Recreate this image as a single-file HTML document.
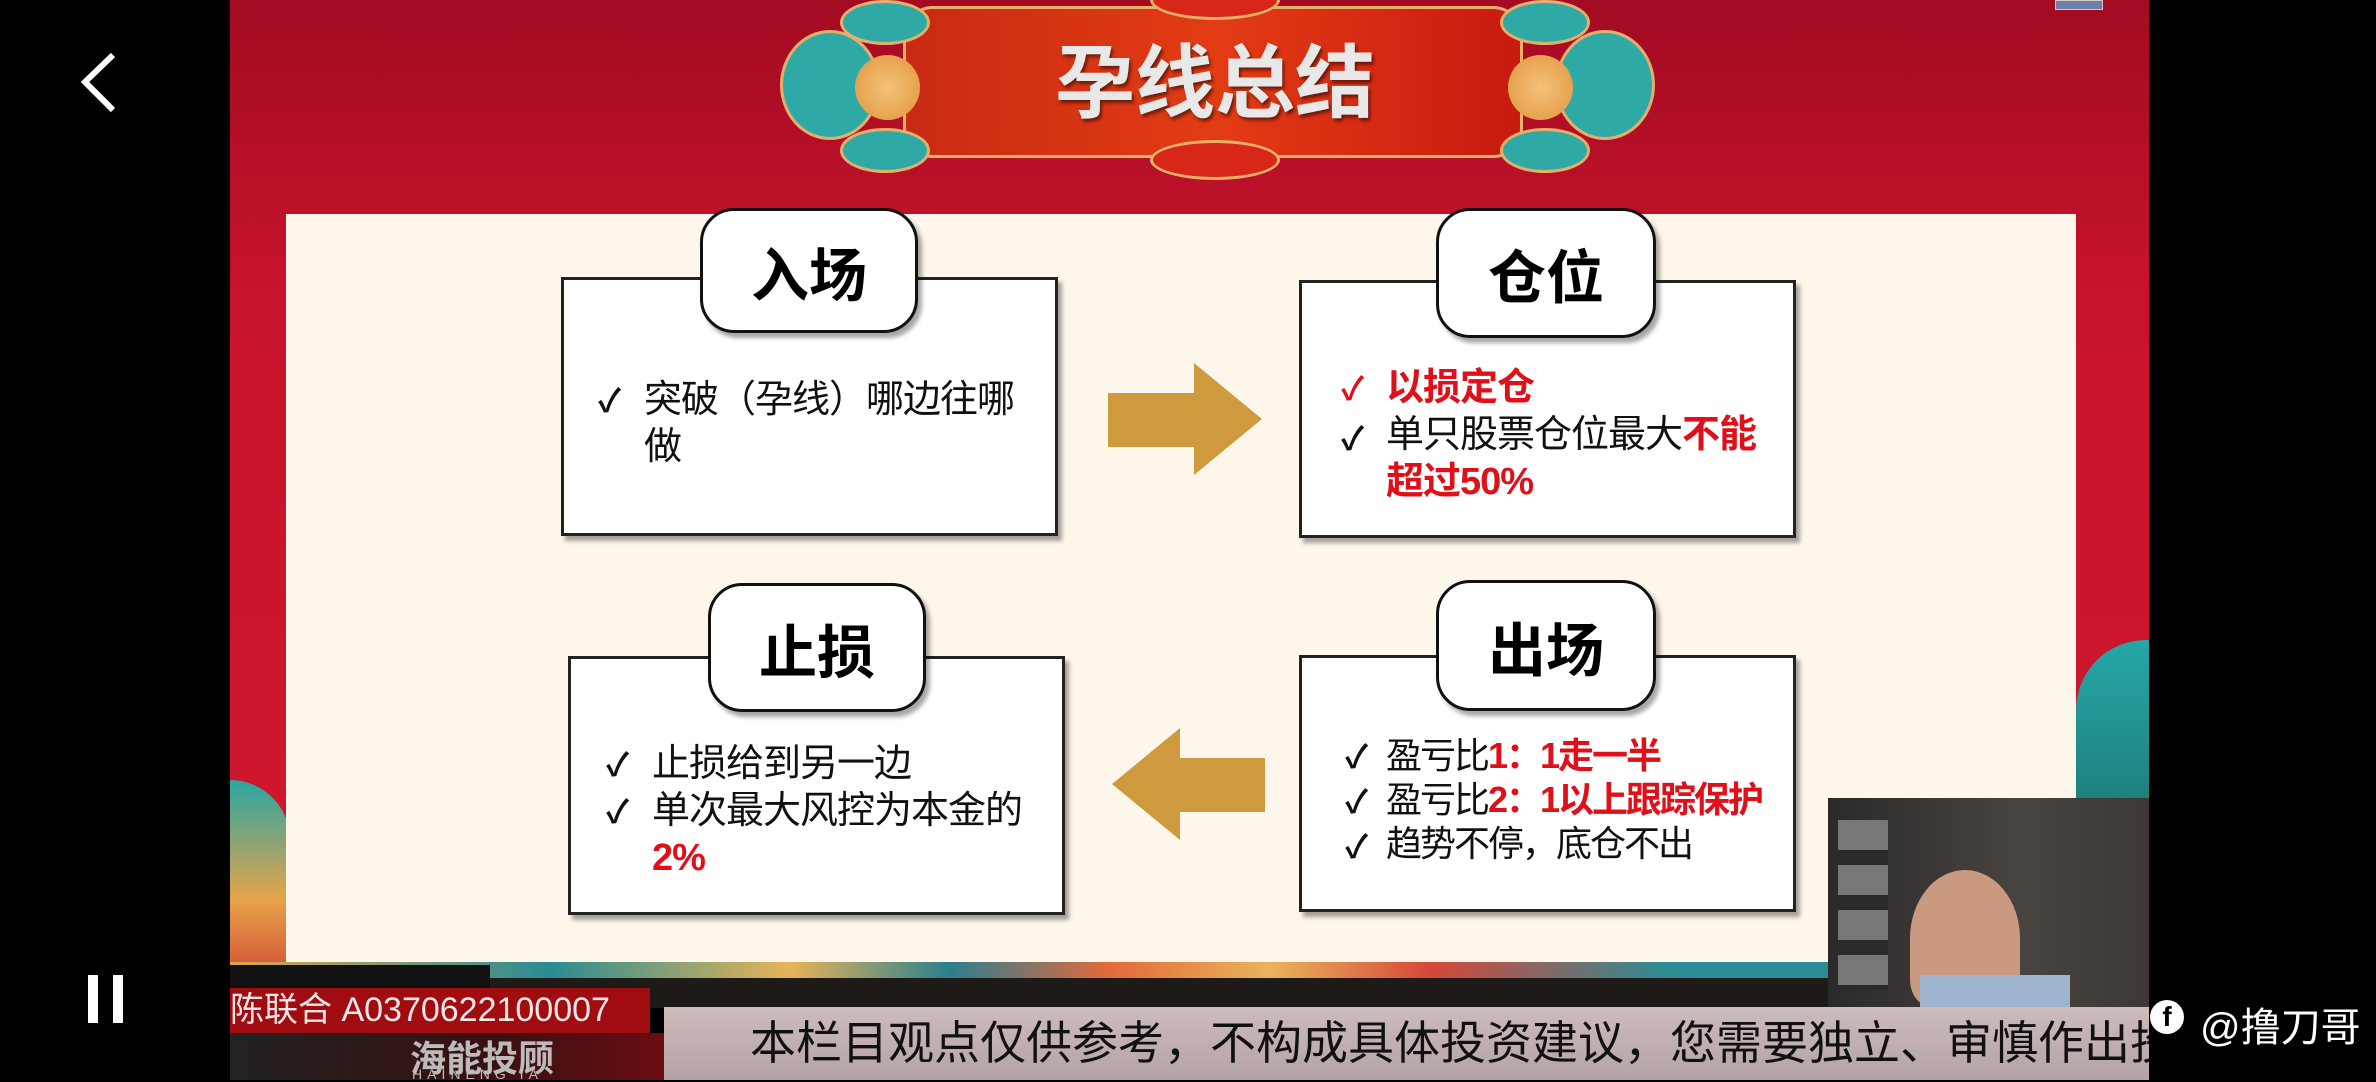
<!DOCTYPE html>
<html><head><meta charset="utf-8"><style>
*{margin:0;padding:0;box-sizing:border-box}
body{width:2376px;height:1080px;background:#000;position:relative;overflow:hidden;font-family:"Liberation Sans","Noto Sans CJK SC",sans-serif}
.abs{position:absolute}
.slide{left:230px;top:0;width:1919px;height:985px;background:linear-gradient(180deg,#a30b22 0%,#c8132c 30%,#d0182e 100%)}
.panel{left:286px;top:214px;width:1790px;height:750px;background:#fdf6ea}
.box{background:#fff;border:3px solid #222;box-shadow:4px 5px 4px rgba(0,0,0,.35)}
.tab{background:#fff;border:3px solid #111;border-radius:34px;box-shadow:4px 5px 4px rgba(0,0,0,.35);font-weight:bold;font-size:58px;color:#000;display:flex;align-items:center;justify-content:center}
.t{font-size:38px;color:#111;line-height:47px;white-space:nowrap}
.r{color:#e0101a;font-weight:bold}
.ck{font-size:32px;color:#111;font-weight:bold}
</style></head><body>
<div class="abs slide"></div>
<div class="abs" style="left:230px;top:780px;width:60px;height:200px;background:linear-gradient(180deg,#2aa6a3,#e6a34a 60%,#d14b34);border-radius:0 60px 0 0"></div>
<div class="abs" style="left:2076px;top:640px;width:73px;height:340px;background:linear-gradient(180deg,#25a7a8,#1e7e7a 50%,#e29644);border-radius:70px 0 0 0"></div>
<div class="abs" style="left:903px;top:6px;width:620px;height:152px;background:linear-gradient(90deg,#c82a12,#e33c14 50%,#c81a10);border:3px solid #e9b06a;border-radius:30px"></div>
<div class="abs" style="left:1150px;top:-20px;width:130px;height:40px;border-radius:50%;background:#d62718;border:3px solid #e9b06a"></div>
<div class="abs" style="left:1150px;top:140px;width:130px;height:40px;border-radius:50%;background:#d62718;border:3px solid #e9b06a"></div>
<div class="abs" style="left:780px;top:30px;width:100px;height:110px;border-radius:50%;background:#2fa9a6;border:3px solid #e3b06c"></div>
<div class="abs" style="left:855px;top:55px;width:65px;height:65px;border-radius:50%;background:radial-gradient(#f4c27a,#e0953c)"></div>
<div class="abs" style="left:840px;top:0px;width:90px;height:45px;border-radius:50%;background:#2fa9a6;border:3px solid #e3b06c"></div>
<div class="abs" style="left:840px;top:128px;width:90px;height:45px;border-radius:50%;background:#2fa9a6;border:3px solid #e3b06c"></div>
<div class="abs" style="left:1555px;top:30px;width:100px;height:110px;border-radius:50%;background:#2fa9a6;border:3px solid #e3b06c"></div>
<div class="abs" style="left:1508px;top:55px;width:65px;height:65px;border-radius:50%;background:radial-gradient(#f4c27a,#e0953c)"></div>
<div class="abs" style="left:1500px;top:0px;width:90px;height:45px;border-radius:50%;background:#2fa9a6;border:3px solid #e3b06c"></div>
<div class="abs" style="left:1500px;top:128px;width:90px;height:45px;border-radius:50%;background:#2fa9a6;border:3px solid #e3b06c"></div>
<div class="abs" style="left:1040px;top:36px;width:350px;text-align:center;font-size:80px;font-weight:bold;color:#e8e8e8;text-shadow:2px 3px 3px rgba(0,0,0,.5);line-height:95px">孕线总结</div>
<div class="abs" style="left:2055px;top:0;width:48px;height:10px;background:#6b7fa8;border:1px solid #ccc"></div>

<div class="abs panel"></div>
<div class="abs box" style="left:561px;top:277px;width:497px;height:259px"></div>
<div class="abs box" style="left:1299px;top:280px;width:497px;height:258px"></div>
<div class="abs box" style="left:568px;top:656px;width:497px;height:259px"></div>
<div class="abs box" style="left:1299px;top:655px;width:497px;height:257px"></div>
<div class="abs tab" style="left:700px;top:208px;width:218px;height:125px">入场</div>
<div class="abs tab" style="left:1436px;top:208px;width:220px;height:130px">仓位</div>
<div class="abs tab" style="left:708px;top:583px;width:218px;height:129px">止损</div>
<div class="abs tab" style="left:1436px;top:580px;width:220px;height:131px">出场</div>
<svg class="abs" style="left:1100px;top:355px" width="175" height="130"><polygon points="8,38 94,38 94,8 162,64 94,120 94,92 8,92" fill="#cf9a3e"/></svg>
<svg class="abs" style="left:1100px;top:720px" width="175" height="130"><polygon points="165,38 80,38 80,8 12,64 80,120 80,92 165,92" fill="#cf9a3e"/></svg>
<div class="abs t" style="left:598px;top:377px"><span class="ck">✓</span></div>
<div class="abs t" style="left:644px;top:377px;letter-spacing:-1px">突破（孕线）哪边往哪<br>做</div>
<div class="abs t" style="left:1341px;top:365px;color:#e0101a"><span class="ck" style="color:#e0101a">✓</span></div>
<div class="abs t" style="left:1341px;top:415px"><span class="ck">✓</span></div>
<div class="abs t" style="left:1386px;top:365px;letter-spacing:-1px"><span class="r">以损定仓</span><br>单只股票仓位最大<span class="r">不能</span><br><span class="r">超过50%</span></div>
<div class="abs t" style="left:606px;top:741px"><span class="ck">✓</span></div>
<div class="abs t" style="left:606px;top:788px"><span class="ck">✓</span></div>
<div class="abs t" style="left:652px;top:741px;letter-spacing:-1px">止损给到另一边<br>单次最大风控为本金的<br><span class="r">2%</span></div>
<div class="abs t" style="left:1345px;top:734px;line-height:44px"><span class="ck">✓</span><br><span class="ck">✓</span><br><span class="ck">✓</span></div>
<div class="abs t" style="left:1386px;top:734px;line-height:44px;font-size:36px;letter-spacing:-2px">盈亏比<span class="r">1：1走一半</span><br>盈亏比<span class="r">2：1以上跟踪保护</span><br>趋势不停，底仓不出</div>
<div class="abs" style="left:230px;top:962px;width:1600px;height:18px;background:linear-gradient(90deg,#e0a64a,#2a8c94 20%,#e7b457 35%,#2b7f8f 45%,#e46a3a 55%,#e9b45a 65%,#d7473a 75%,#2b8d95 90%)"></div>
<div class="abs" style="left:230px;top:978px;width:1600px;height:30px;background:#1e1a18"></div>
<div class="abs" style="left:230px;top:965px;width:260px;height:40px;background:#111"></div>
<div class="abs" style="left:230px;top:1033px;width:434px;height:47px;background:linear-gradient(90deg,#222,#3a1010 60%,#6a0d12)"></div>
<div class="abs" style="left:410px;top:1030px;font-size:36px;font-weight:bold;color:#bbb">海能投顾</div>
<div class="abs" style="left:412px;top:1066px;font-size:14px;color:#bbb;letter-spacing:5px">HAINENG IA</div>
<div class="abs" style="left:230px;top:988px;width:420px;height:45px;background:#a10c10;color:#f2e6e6;font-size:34px;line-height:45px;white-space:nowrap">陈联合 A0370622100007</div>
<div class="abs" style="left:664px;top:1007px;width:1485px;height:73px;background:linear-gradient(180deg,#cdbcbc,#b4a3a4);color:#111;font-size:46px;line-height:73px;padding-left:86px;white-space:nowrap;overflow:hidden">本栏目观点仅供参考，不构成具体投资建议，您需要独立、审慎作出投</div>
<div class="abs" style="left:1828px;top:798px;width:321px;height:209px;background:linear-gradient(90deg,#2a2a2c 0%,#3a3634 30%,#4a4440 60%,#3d3835 100%)"></div>
<div class="abs" style="left:1838px;top:820px;width:50px;height:170px;background:repeating-linear-gradient(180deg,#777 0 30px,#2a2a2a 30px 45px)"></div>
<div class="abs" style="left:1910px;top:870px;width:110px;height:137px;border-radius:50% 50% 20% 20%;background:#c99a80"></div>
<div class="abs" style="left:1920px;top:975px;width:150px;height:32px;background:#9fb4cf"></div>
<svg class="abs" style="left:75px;top:50px" width="45" height="65"><polyline points="38,5 10,32 38,60" fill="none" stroke="#fff" stroke-width="6"/></svg>
<div class="abs" style="left:88px;top:975px;width:10px;height:48px;background:#fff"></div>
<div class="abs" style="left:113px;top:975px;width:10px;height:48px;background:#fff"></div>
<div class="abs" style="left:2200px;top:995px;font-size:40px;color:#fff;white-space:nowrap">@撸刀哥</div>
<div class="abs" style="left:2150px;top:1000px;width:34px;height:34px;border-radius:50%;background:#fff;color:#000;font-weight:bold;font-size:28px;text-align:center;line-height:34px">f</div>
</body></html>
